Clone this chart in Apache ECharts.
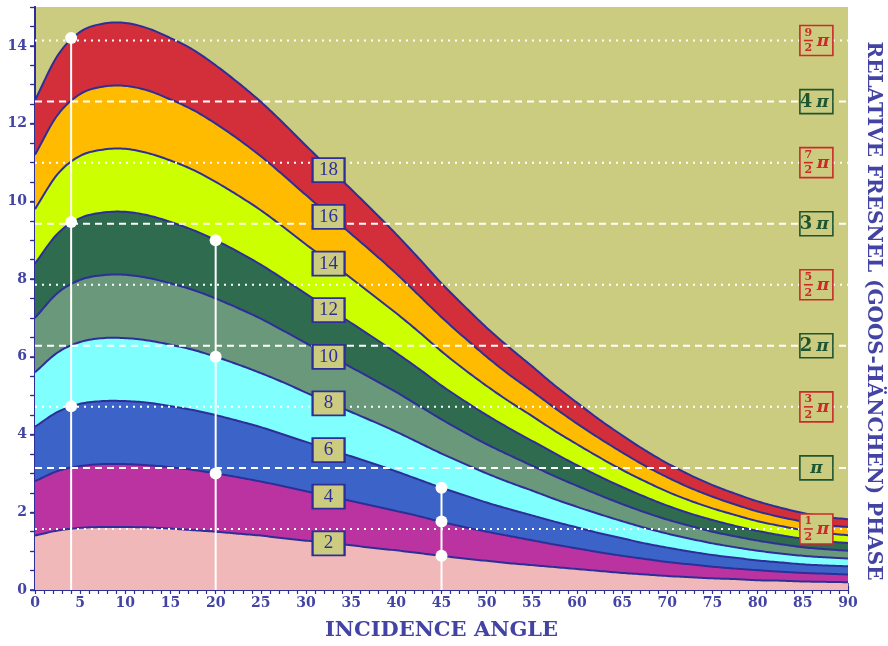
<!DOCTYPE html>
<html>
<head>
<meta charset="utf-8">
<script src="https://cdn.jsdelivr.net/npm/echarts@6/dist/echarts.min.js"></script>
<style>
html,body{margin:0;padding:0;background:#fff;}
#chart{width:888px;height:646px;}
</style>
</head>
<body>
<div id="chart"></div>
<script>
// ---------- DATA ----------
const angles = [0,2.5,5,7.5,10,12.5,15,17.5,20,22.5,25,27.5,30,32.5,35,37.5,40,42.5,45,47.5,50,52.5,55,57.5,60,62.5,65,67.5,70,72.5,75,77.5,80,82.5,85,87.5,90];
const curve2  = [1.40,1.53,1.60,1.62,1.62,1.61,1.58,1.54,1.50,1.45,1.40,1.33,1.27,1.21,1.15,1.08,1.02,0.95,0.88,0.81,0.75,0.69,0.64,0.59,0.54,0.49,0.44,0.40,0.36,0.33,0.30,0.28,0.25,0.24,0.22,0.21,0.20];
const curve4  = [2.80,3.06,3.19,3.24,3.24,3.21,3.16,3.09,3.00,2.90,2.79,2.67,2.54,2.42,2.29,2.16,2.03,1.90,1.75,1.62,1.50,1.39,1.28,1.17,1.07,0.97,0.88,0.80,0.72,0.66,0.60,0.55,0.51,0.47,0.44,0.42,0.40];
const curve6  = [4.20,4.58,4.79,4.86,4.86,4.82,4.73,4.63,4.50,4.35,4.19,4.00,3.81,3.62,3.44,3.25,3.05,2.84,2.63,2.44,2.25,2.08,1.92,1.76,1.61,1.46,1.33,1.20,1.09,0.99,0.90,0.83,0.76,0.71,0.66,0.63,0.61];
const curve8  = [5.60,6.11,6.38,6.48,6.48,6.42,6.31,6.18,6.00,5.80,5.58,5.34,5.08,4.83,4.58,4.33,4.07,3.79,3.51,3.25,3.00,2.77,2.56,2.34,2.14,1.95,1.77,1.60,1.45,1.32,1.20,1.10,1.01,0.94,0.88,0.84,0.81];
const curve10 = [7.00,7.64,7.98,8.10,8.11,8.03,7.89,7.72,7.50,7.25,6.98,6.67,6.35,6.04,5.73,5.41,5.09,4.74,4.39,4.06,3.75,3.47,3.20,2.93,2.68,2.44,2.21,2.00,1.81,1.65,1.50,1.38,1.27,1.18,1.10,1.05,1.01];
const curve12 = [8.40,9.17,9.57,9.71,9.73,9.64,9.47,9.26,9.00,8.70,8.37,8.00,7.62,7.25,6.87,6.49,6.10,5.69,5.26,4.87,4.50,4.16,3.84,3.52,3.21,2.92,2.65,2.40,2.17,1.97,1.80,1.65,1.52,1.41,1.32,1.25,1.21];
const curve14 = [9.80,10.70,11.17,11.33,11.35,11.24,11.05,10.81,10.50,10.15,9.77,9.34,8.89,8.46,8.02,7.57,7.12,6.64,6.14,5.68,5.25,4.85,4.48,4.10,3.75,3.41,3.09,2.80,2.53,2.30,2.10,1.93,1.77,1.65,1.54,1.46,1.41];
const curve16 = [11.20,12.22,12.76,12.95,12.97,12.85,12.62,12.35,12.00,11.60,11.16,10.67,10.16,9.66,9.16,8.66,8.14,7.58,7.02,6.50,6.00,5.54,5.12,4.69,4.28,3.90,3.54,3.20,2.90,2.63,2.40,2.20,2.02,1.88,1.76,1.67,1.62];
const curve18 = [12.60,13.75,14.36,14.57,14.59,14.45,14.20,13.90,13.50,13.05,12.56,12.01,11.43,10.87,10.31,9.74,9.15,8.53,7.89,7.31,6.75,6.24,5.76,5.27,4.82,4.38,3.98,3.60,3.26,2.96,2.70,2.48,2.28,2.12,1.98,1.88,1.82];

const curveLabels = ['2','4','6','8','10','12','14','16','18'];
const curveLabelX = 32.5;
const curveLabelY = [1.2,2.4,3.6,4.8,6.0,7.2,8.4,9.6,10.8];

const halfPiMultiples = [1,2,3,4,5,6,7,8,9];           // k * pi/2
const phaseLevels = [1.5708,3.1416,4.7124,6.2832,7.8540,9.4248,10.9956,12.5664,14.1372];
const phaseNumerators = ['1','','3','','5','','7','','9'];
const phaseWholeLabels = ['', 'π', '', '2 π', '', '3 π', '', '4 π', ''];
const phaseLabelX = 86.5;

const markerX = [4, 20, 45];
const markerY = [[4.73, 9.47, 14.2], [3.0, 6.0, 9.0], [0.88, 1.76, 2.63]];

const yTicks = [0,2,4,6,8,10,12,14];
const xTicks = [0,5,10,15,20,25,30,35,40,45,50,55,60,65,70,75,80,85,90];

// ---------- STYLE ----------
const bandColors = ['#f0b8b8','#bb33a0','#3c64c8','#80ffff','#6a987a','#2f6b4f','#ccff00','#ffbb00','#d32f3a'];
const lineBlue = '#2e2e99';
const textBlue = '#4343a3';
const khaki = '#cccc80';
const font = 'DejaVu Serif';

const curves = [curve2,curve4,curve6,curve8,curve10,curve12,curve14,curve16,curve18];
const series = [];

// Catmull-Rom spline through pixel points (rendering only)
function splinePixels(pts, seg) {
  const out = [];
  const n = pts.length;
  const get = i => {
    if (i < 0) return [2 * pts[0][0] - pts[1][0], 2 * pts[0][1] - pts[1][1]];
    if (i >= n) return [2 * pts[n - 1][0] - pts[n - 2][0], 2 * pts[n - 1][1] - pts[n - 2][1]];
    return pts[i];
  };
  for (let i = 0; i < n - 1; i++) {
    const p0 = get(i - 1), p1 = get(i), p2 = get(i + 1), p3 = get(i + 2);
    for (let s = 0; s < seg; s++) {
      const t = s / seg, t2 = t * t, t3 = t2 * t;
      const f = (a, b, c, d) => 0.5 * ((2 * b) + (-a + c) * t + (2 * a - 5 * b + 4 * c - d) * t2 + (-a + 3 * b - 3 * c + d) * t3);
      out.push([f(p0[0], p1[0], p2[0], p3[0]), f(p0[1], p1[1], p2[1], p3[1])]);
    }
  }
  out.push(pts[n - 1]);
  return out;
}

// bands: one custom series drawing filled areas from the axis scales
series.push({
  type: 'custom',
  silent: true, z: 2, clip: true,
  data: [[0, 0]],
  renderItem: function (params, api) {
    const children = [];
    const base0 = api.coord([angles[0], 0]);
    const base1 = api.coord([angles[angles.length - 1], 0]);
    for (let i = curves.length - 1; i >= 0; i--) {
      const pts = angles.map((a, j) => api.coord([a, curves[i][j]]));
      const sp = splinePixels(pts, 10);
      children.push({
        type: 'polygon',
        shape: { points: sp.concat([[base1[0], base1[1]], [base0[0], base0[1]]]) },
        style: { fill: bandColors[i], stroke: null }
      });
      children.push({
        type: 'polyline',
        shape: { points: sp },
        style: { fill: null, stroke: lineBlue, lineWidth: 2 }
      });
    }
    return { type: 'group', children: children };
  }
});

// horizontal phase reference lines
phaseLevels.forEach((v, i) => {
  const k = halfPiMultiples[i];
  series.push({
    type: 'line',
    data: [[0, v], [90, v]],
    showSymbol: false, symbol: 'none', silent: true, z: 3,
    lineStyle: { color: '#ffffff', width: 2, type: (k % 2 === 1) ? [2, 5] : [7, 5] }
  });
});

// vertical white marker lines + dots
markerX.forEach((x, i) => {
  const ys = markerY[i];
  series.push({
    type: 'line',
    data: [[x, 0], [x, ys[ys.length - 1]]],
    showSymbol: false, symbol: 'none', silent: true, z: 4,
    lineStyle: { color: '#ffffff', width: 2 }
  });
  series.push({
    type: 'scatter',
    data: ys.map(y => [x, y]),
    symbolSize: 12, silent: true, z: 5,
    itemStyle: { color: '#ffffff', opacity: 1 }
  });
});

// curve labels
series.push({
  type: 'scatter',
  data: curveLabelY.map((y, i) => ({ value: [curveLabelX, y], name: curveLabels[i] })),
  symbol: 'rect', symbolSize: [32, 24], silent: true, z: 6,
  itemStyle: { color: khaki, borderColor: lineBlue, borderWidth: 2, opacity: 1 },
  label: {
    show: true, position: 'inside', formatter: p => p.name,
    fontFamily: 'Liberation Serif', fontSize: 19, color: lineBlue
  }
});

// phase labels (boxes on the right)
series.push({
  type: 'custom',
  silent: true, z: 6,
  data: phaseLevels.map((v, i) => [phaseLabelX, v, halfPiMultiples[i], i]),
  renderItem: function (params, api) {
    const p = api.coord([api.value(0), api.value(1)]);
    const k = api.value(2);
    const idx = api.value(3);
    const odd = k % 2 === 1;
    const col = odd ? '#cc2a2a' : '#1d5530';
    const w = 33, h = odd ? 30 : 24;
    const children = [{
      type: 'rect',
      shape: { x: p[0] - w / 2, y: p[1] - h / 2, width: w, height: h },
      style: { fill: khaki, stroke: col, lineWidth: 1.6 }
    }];
    if (odd) {
      children.push({ type: 'text', style: { x: p[0] - 8, y: p[1] - 7.5, text: phaseNumerators[idx], fill: col,
        font: 'bold 11px "DejaVu Serif"', align: 'center', verticalAlign: 'middle' } });
      children.push({ type: 'line', shape: { x1: p[0] - 12.5, y1: p[1], x2: p[0] - 3.5, y2: p[1] },
        style: { stroke: col, lineWidth: 1.6 } });
      children.push({ type: 'text', style: { x: p[0] - 8, y: p[1] + 8, text: '2', fill: col,
        font: 'bold 11px "DejaVu Serif"', align: 'center', verticalAlign: 'middle' } });
      children.push({ type: 'text', style: { x: p[0] + 6.5, y: p[1] + 1, text: 'π', fill: col,
        font: 'italic bold 17px "DejaVu Serif"', align: 'center', verticalAlign: 'middle' } });
    } else {
      const t = phaseWholeLabels[idx];
      const parts = t.split(' ');
      if (parts.length === 2) {
        children.push({ type: 'text', style: { x: p[0] - 4, y: p[1] + 1, text: parts[0], fill: col,
          font: 'bold 18px "DejaVu Serif"', align: 'right', verticalAlign: 'middle' } });
        children.push({ type: 'text', style: { x: p[0] + 6, y: p[1] + 1, text: parts[1], fill: col,
          font: 'italic bold 17px "DejaVu Serif"', align: 'center', verticalAlign: 'middle' } });
      } else {
        children.push({ type: 'text', style: { x: p[0], y: p[1] + 1, text: t, fill: col,
          font: 'italic bold 17px "DejaVu Serif"', align: 'center', verticalAlign: 'middle' } });
      }
    }
    return { type: 'group', children: children };
  }
});

const axisLineStyle = { show: true, lineStyle: { color: lineBlue, width: 2 } };

const option = {
  animation: false,
  backgroundColor: '#ffffff',
  grid: { left: 35, right: 40, top: 7, bottom: 52, show: true, backgroundColor: khaki, borderWidth: 0 },
  xAxis: [
    {
      type: 'value', min: 0, max: 90, interval: 5, position: 'bottom',
      axisLine: axisLineStyle,
      axisTick: { show: true, inside: true, length: 7, lineStyle: { color: lineBlue, width: 1.5 } },
      axisLabel: { color: textBlue, fontFamily: font, fontWeight: 'bold', fontSize: 14, margin: 6,
        formatter: v => xTicks.includes(v) ? String(v) : '' },
      splitLine: { show: false },
      name: 'INCIDENCE ANGLE', nameLocation: 'middle', nameGap: 30,
      nameTextStyle: { color: textBlue, fontFamily: font, fontWeight: 'bold', fontSize: 21 }
    },
    {
      type: 'value', min: 0, max: 90, interval: 1, position: 'bottom',
      axisLine: { show: false },
      axisTick: { show: true, inside: true, length: 4, lineStyle: { color: lineBlue, width: 1.2 } },
      axisLabel: { show: false }, splitLine: { show: false }
    },
    {
      type: 'value', min: 0, max: 90, interval: 1, position: 'top',
      axisLine: axisLineStyle,
      axisTick: { show: true, inside: true, length: 4, lineStyle: { color: lineBlue, width: 1.2 } },
      axisLabel: { show: false }, splitLine: { show: false }
    }
  ],
  yAxis: [
    {
      type: 'value', min: 0, max: 15, interval: 2, position: 'left',
      axisLine: axisLineStyle,
      axisTick: { show: true, inside: false, length: 5, lineStyle: { color: lineBlue, width: 1.5 } },
      axisLabel: { color: textBlue, fontFamily: font, fontWeight: 'bold', fontSize: 14, margin: 8,
        showMaxLabel: false, formatter: v => yTicks.includes(v) ? String(v) : '' },
      splitLine: { show: false }
    },
    {
      type: 'value', min: 0, max: 15, interval: 0.5, position: 'left',
      axisLine: { show: false },
      axisTick: { show: true, inside: false, length: 4, lineStyle: { color: lineBlue, width: 1.2 } },
      axisLabel: { show: false }, splitLine: { show: false }
    },
    {
      type: 'value', min: 0, max: 15, interval: 0.5, position: 'right',
      axisLine: axisLineStyle,
      axisTick: { show: true, inside: true, length: 5, lineStyle: { color: lineBlue, width: 1.2 } },
      axisLabel: { show: false }, splitLine: { show: false }
    }
  ],
  graphic: [{
    type: 'text',
    x: 873, y: 311,
    rotation: -Math.PI / 2,
    style: {
      text: 'RELATIVE FRESNEL (GOOS-HÄNCHEN) PHASE',
      fill: textBlue, font: 'bold 20px "DejaVu Serif"',
      align: 'center', verticalAlign: 'middle'
    },
    z: 10
  }],
  series: series
};

const chart = echarts.init(document.getElementById('chart'), null, { renderer: 'canvas' });
chart.setOption(option);
</script>
</body>
</html>
